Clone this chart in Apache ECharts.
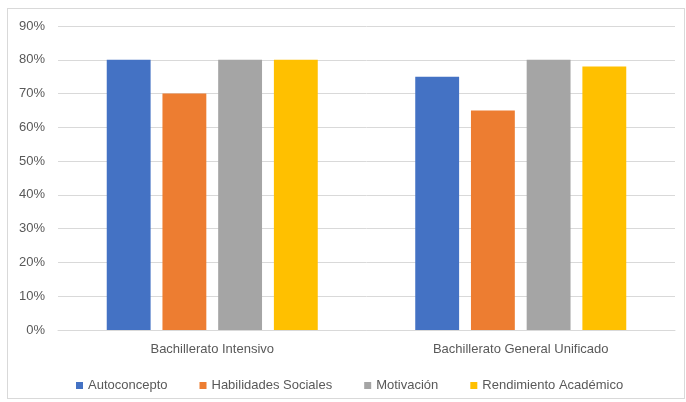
<!DOCTYPE html>
<html>
<head>
<meta charset="utf-8">
<script src="https://cdn.jsdelivr.net/npm/echarts@6/dist/echarts.min.js"></script>
<style>
html,body{margin:0;padding:0;background:#fff;}
#frame{position:absolute;left:7px;top:8px;width:678px;height:391px;border:1px solid #d9d9d9;box-sizing:border-box;}
#c{position:absolute;left:0;top:0;width:686px;height:402px;}
</style>
</head>
<body>
<div id="frame"></div>
<div id="c"></div>
<script>
const categories = ["Bachillerato Intensivo", "Bachillerato General Unificado"];
const seriesNames = ["Autoconcepto", "Habilidades Sociales", "Motivación", "Rendimiento Académico"];
const autoconcepto = [80, 75];
const habilidadesSociales = [70, 65];
const motivacion = [80, 80];
const rendimientoAcademico = [80, 78];
const colors = ["#4472C4", "#ED7D31", "#A5A5A5", "#FFC000"];
const seriesData = [autoconcepto, habilidadesSociales, motivacion, rendimientoAcademico];

const chart = echarts.init(document.getElementById('c'));
const font = "'Liberation Sans', Arial, sans-serif";
chart.setOption({
  animation: false,
  color: colors,
  grid: {left: 58, right: 11, top: 26, bottom: 72},
  legend: {
    top: 374, left: 71,
    itemWidth: 7, itemHeight: 7, itemGap: 32,
    icon: 'rect',
    textStyle: {color: '#595959', fontSize: 13, fontFamily: font},
    data: seriesNames
  },
  xAxis: {
    type: 'category', data: categories,
    axisLine: {lineStyle: {color: '#d9d9d9'}},
    axisTick: {show: false},
    axisLabel: {color: '#595959', fontSize: 13, fontFamily: font, margin: 13}
  },
  yAxis: {
    type: 'value', min: 0, max: 90, interval: 10,
    axisLabel: {formatter: '{value}%', color: '#595959', fontSize: 13, fontFamily: font, margin: 13},
    splitLine: {lineStyle: {color: '#d9d9d9'}},
    axisLine: {show: false}, axisTick: {show: false}
  },
  series: seriesNames.map((n, i) => ({
    name: n, type: 'bar', data: seriesData[i],
    barGap: '27%', barCategoryGap: '31.6%'
  }))
});
</script>
</body>
</html>
